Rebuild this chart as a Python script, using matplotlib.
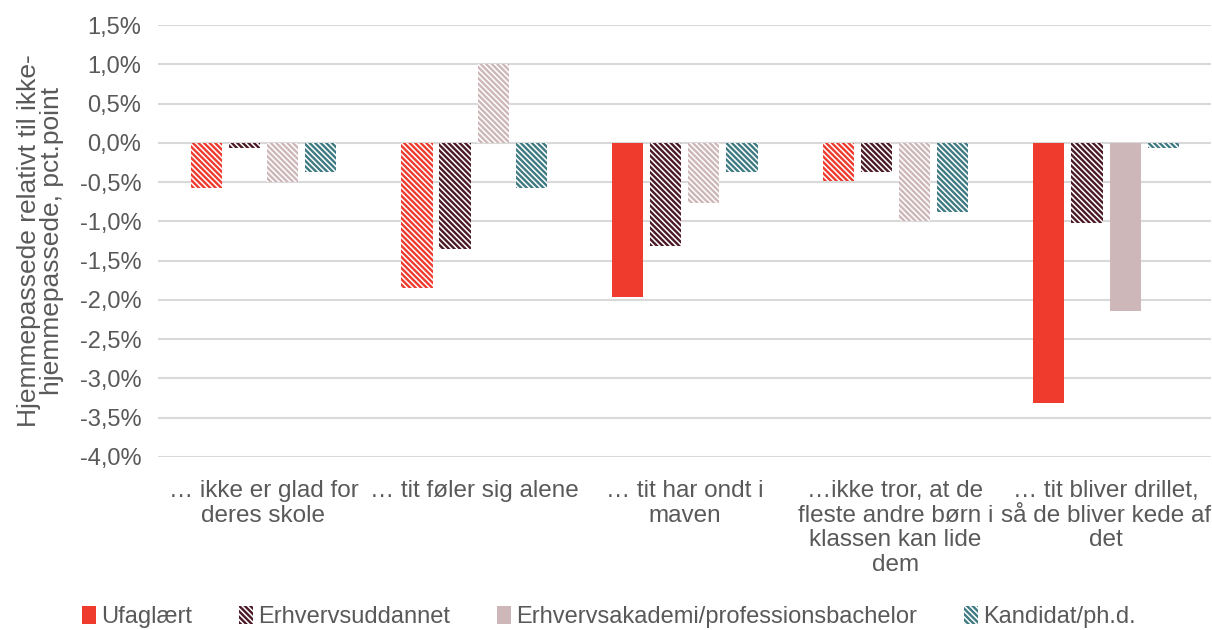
import numpy as np
import matplotlib
matplotlib.use('Agg')
import matplotlib.pyplot as plt
from matplotlib.patches import Patch

plt.rcParams['font.family'] = ['Liberation Sans', 'DejaVu Sans']
plt.rcParams['hatch.linewidth'] = 1.7

# Data
categories = [
    "… ikke er glad for\nderes skole",
    "… tit føler sig alene",
    "… tit har ondt i\nmaven",
    "…ikke tror, at de\nfleste andre børn i\nklassen kan lide\ndem",
    "… tit bliver drillet,\nså de bliver kede af\ndet",
]
series = ["Ufaglært", "Erhvervsuddannet",
          "Erhvervsakademi/professionsbachelor", "Kandidat/ph.d."]
ufaglaert = [-0.58, -1.85, -1.97, -0.48, -3.31]
erhvervsuddannet = [-0.06, -1.35, -1.32, -0.37, -1.02]
akademi = [-0.50, 1.00, -0.76, -0.99, -2.14]
kandidat = [-0.37, -0.58, -0.37, -0.88, -0.06]
# True = significant (solid fill), False = hatched
significant = [
    [False, False, True, False, True],
    [False, False, False, False, False],
    [False, False, False, False, True],
    [False, False, False, False, False],
]
colors = ["#EE3B2E", "#4B1A27", "#CDB7B9", "#3E7A82"]
values = [ufaglaert, erhvervsuddannet, akademi, kandidat]
HATCH = "\\" * 6
GREY = "#595959"

fig = plt.figure(figsize=(12.12, 6.3), dpi=100)
ax = fig.add_axes([0.1305, 0.275, 0.869, 0.685])

x = np.arange(len(categories))
step = 0.181
width = 0.148
for i, (vals, col) in enumerate(zip(values, colors)):
    pos = x + (i - 1.5) * step
    for j, v in enumerate(vals):
        if significant[i][j]:
            ax.bar(pos[j], v, width, color=col, linewidth=0, zorder=3)
        else:
            ax.bar(pos[j], v, width, facecolor="white", edgecolor=col,
                   hatch=HATCH, linewidth=0, zorder=3)

ax.set_ylim(-4.0, 1.5)
ax.set_xlim(-0.5, len(categories) - 0.5)
ticks = np.arange(-4.0, 1.51, 0.5)
ax.set_yticks(ticks)
ax.set_yticklabels([f"{t:.1f}%".replace(".", ",") for t in ticks])
ax.set_xticks(x)
ax.set_xticklabels(categories, linespacing=1.15, fontsize=17.5)
ax.tick_params(axis='both', length=0, colors=GREY)
ax.tick_params(axis='y', labelsize=17, pad=12)
ax.tick_params(axis='x', pad=17)
ax.grid(axis='y', color="#D9D9D9", linewidth=1.5, zorder=0)
for s in ax.spines.values():
    s.set_visible(False)
ax.set_ylabel("Hjemmepassede relativt til ikke-\nhjemmepassede, pct.point",
              fontsize=19, color=GREY, linespacing=0.95)
ax.yaxis.set_label_coords(-0.089, 0.5)

# Legend
handles = []
for i, col in enumerate(colors):
    if i in (0, 2):
        handles.append(Patch(facecolor=col, linewidth=0))
    else:
        handles.append(Patch(facecolor="white", edgecolor=col, hatch=HATCH,
                             linewidth=0))
leg = fig.legend(handles, series, ncol=4, loc='center left',
                 bbox_to_anchor=(0.050, 0.021), frameon=False,
                 fontsize=17, handlelength=0.6, handleheight=0.8,
                 handletextpad=0.2, columnspacing=2.0)
for t in leg.get_texts():
    t.set_color(GREY)

fig.savefig("out.png", dpi=100)
